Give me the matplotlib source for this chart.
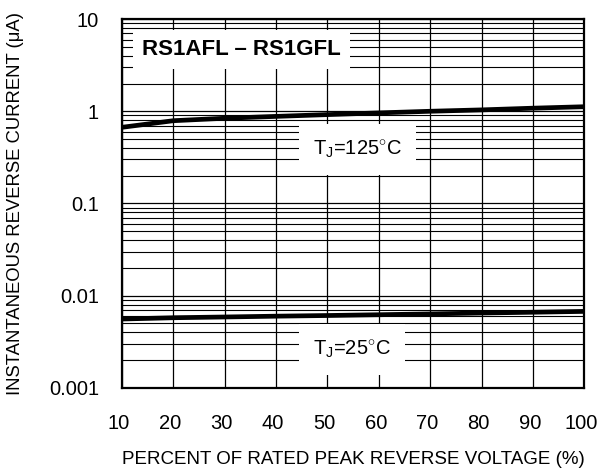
import matplotlib
matplotlib.use("Agg")
import matplotlib.pyplot as plt
from matplotlib.ticker import LogLocator, FixedLocator, NullFormatter
from matplotlib.transforms import ScaledTranslation

plt.rcParams['font.family'] = ['Liberation Sans', 'DejaVu Sans']
plt.rcParams['mathtext.fontset'] = 'custom'
plt.rcParams['mathtext.rm'] = 'Liberation Sans'
plt.rcParams['mathtext.it'] = 'Liberation Sans'

# percent of rated peak reverse voltage
voltage_pct = [10, 20, 30, 40, 50, 60, 70, 80, 90, 100]
# reverse current (uA)
current_125c = [0.67, 0.79, 0.84, 0.88, 0.92, 0.96, 1.0, 1.035, 1.08, 1.12]
current_25c = [0.00559, 0.00577, 0.00588, 0.0060, 0.0061, 0.00622, 0.00635, 0.00649, 0.00662, 0.00676]

x_ticks = [10, 20, 30, 40, 50, 60, 70, 80, 90, 100]
y_ticks = [0.001, 0.01, 0.1, 1, 10]
y_tick_labels = ["0.001", "0.01", "0.1", "1", "10"]

fig = plt.figure(figsize=(5.98, 4.76), dpi=100)
ax = fig.add_axes([0.204, 0.185, 0.773, 0.775])

ax.set_yscale('log')
ax.set_xlim(10, 100)
ax.set_ylim(0.001, 10)

ax.xaxis.set_major_locator(FixedLocator(x_ticks))
ax.set_yticks(y_ticks)
ax.set_yticklabels(y_tick_labels)
ax.yaxis.set_minor_locator(LogLocator(base=10, subs=range(2, 10)))
ax.yaxis.set_minor_formatter(NullFormatter())

ax.grid(True, which='major', color='black', linewidth=0.9)
ax.grid(True, which='minor', axis='y', color='black', linewidth=0.8)
ax.tick_params(which='both', length=0, labelsize=14.5)
ax.tick_params(axis='x', pad=19)
ax.tick_params(axis='y', pad=16.5)
for s in ax.spines.values():
    s.set_linewidth(1.6)

# x tick labels sit a little left of their grid lines in the original
shift = ScaledTranslation(-3 / 100, 0, fig.dpi_scale_trans)
for lbl in ax.get_xticklabels():
    lbl.set_transform(lbl.get_transform() + shift)

ax.plot(voltage_pct, current_125c, color='black', linewidth=3.4, zorder=3)
ax.plot(voltage_pct, current_25c, color='black', linewidth=3.4, zorder=3)

ax.text(13.9, 4.7, "RS1AFL \u2013 RS1GFL", fontsize=16, fontweight='bold',
        ha='left', va='center', zorder=4,
        bbox=dict(boxstyle='square,pad=0.4', facecolor='white', edgecolor='none'))
ax.text(55.8, 0.384, r"$\mathrm{T_J}$=125$^{\circ}$C", fontsize=14.5,
        ha='center', va='center', zorder=4,
        bbox=dict(boxstyle='square,pad=0.7', facecolor='white', edgecolor='none'))
ax.text(54.8, 0.0026, r"$\mathrm{T_J}$=25$^{\circ}$C", fontsize=14.5,
        ha='center', va='center', zorder=4,
        bbox=dict(boxstyle='square,pad=0.7', facecolor='white', edgecolor='none'))

ax.set_xlabel("PERCENT OF RATED PEAK REVERSE VOLTAGE (%)", fontsize=13.5)
ax.set_ylabel("INSTANTANEOUS REVERSE CURRENT (\u03bcA)", fontsize=13.3)
ax.xaxis.set_label_coords(0.5, -0.172)
ax.yaxis.set_label_coords(-0.212, 0.5)

fig.savefig("out.png", dpi=100)
